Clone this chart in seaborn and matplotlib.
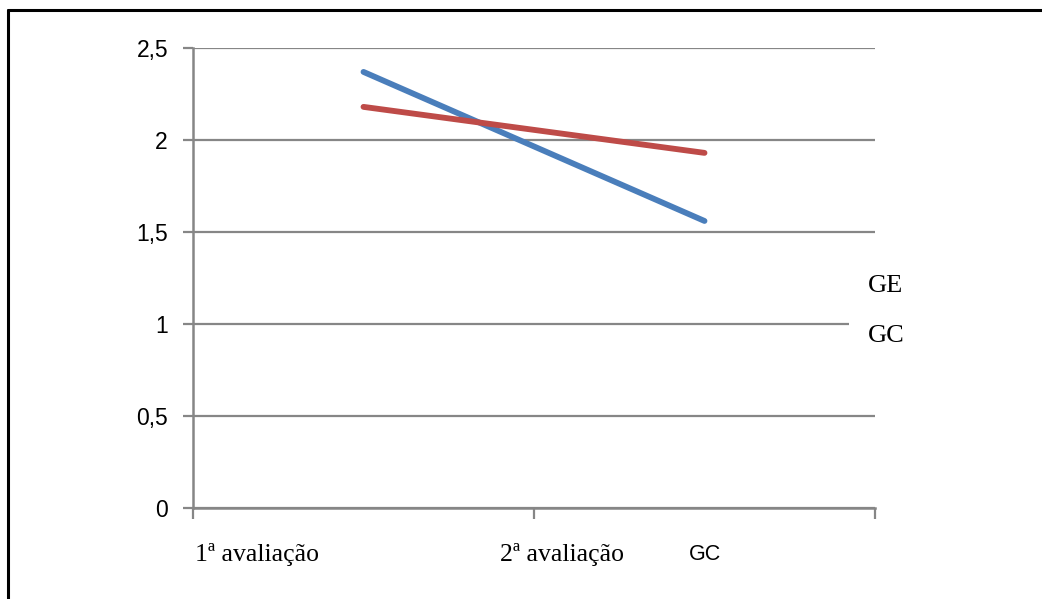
import numpy as np
import pandas as pd
import matplotlib.pyplot as plt
from matplotlib.lines import Line2D
import seaborn as sns

# data
categories = ["1ª avaliação", "2ª avaliação"]
groups = ["GE", "GC"]
ge_values = [2.37, 1.56]
gc_values = [2.18, 1.93]
y_ticks = [0, 0.5, 1, 1.5, 2, 2.5]

BLUE = "#4a7ebb"
RED = "#be4b48"
GRID = "#868686"

sns.set_style("white")
plt.rcParams['font.family'] = ['Liberation Sans', 'DejaVu Sans']
plt.rcParams['text.color'] = 'black'

df = pd.DataFrame({
    'pos': list(range(len(categories))) * 2,
    'valor': ge_values + gc_values,
    'grupo': [groups[0]] * len(categories) + [groups[1]] * len(categories),
})

fig = plt.figure(figsize=(10.42, 5.99), dpi=100)
ax = fig.add_axes([193 / 1042, 1 - 508 / 599, 682 / 1042, 460 / 599])

sns.lineplot(data=df, x='pos', y='valor', hue='grupo', palette=[BLUE, RED],
             linewidth=4.2, legend=False, ax=ax, solid_capstyle='round', zorder=4)

ax.set_xlim(-0.5, len(categories) - 0.5)
ax.set_ylim(0, 2.5)
ax.set_xlabel('')
ax.set_ylabel('')

# y axis with comma decimals
ax.set_yticks(y_ticks)
ax.set_yticklabels([f"{v:g}".replace('.', ',') for v in y_ticks], fontsize=16.5)
ax.yaxis.grid(True, color=GRID, linewidth=1.6)
ax.set_axisbelow(True)

# x ticks at category boundaries, labels drawn by hand below
ax.set_xticks(np.arange(-0.5, len(categories), 1.0))
ax.set_xticklabels([])
ax.tick_params(axis='x', bottom=True, length=8, width=1.6, color=GRID)
ax.tick_params(axis='y', left=True, length=7, width=1.6, color=GRID, pad=11,
               labelcolor='black')

for side in ['top', 'right']:
    ax.spines[side].set_visible(False)
for side in ['left', 'bottom']:
    ax.spines[side].set_color(GRID)
    ax.spines[side].set_linewidth(1.8)

serif = ['Liberation Serif', 'DejaVu Serif']
trans = ax.get_xaxis_transform()
ax.text(-0.495, -0.1, categories[0], transform=trans, ha='left', va='center',
        fontsize=18.5, family=serif)
ax.text(0.40, -0.1, categories[1], transform=trans, ha='left', va='center',
        fontsize=18.5, family=serif)
ax.text(1.0, -0.1, groups[1], transform=trans, ha='center', va='center',
        fontsize=15.5)

# legend-like labels on the right
ax.text(0.99, 0.482, groups[0], transform=ax.transAxes, ha='left', va='center',
        fontsize=19, family=serif, clip_on=False)
ax.text(0.99, 0.374, groups[1], transform=ax.transAxes, ha='left', va='center',
        fontsize=19, family=serif, clip_on=False,
        bbox=dict(facecolor='white', edgecolor='none', pad=14))

# outer frame (top and left edges only)
fig.add_artist(Line2D([8 / 1042, 8 / 1042], [0, 1 - 10 / 599], color='black', linewidth=2.2))
fig.add_artist(Line2D([8 / 1042, 1], [1 - 10 / 599, 1 - 10 / 599], color='black', linewidth=2.2))

fig.savefig('out.png', dpi=100)
